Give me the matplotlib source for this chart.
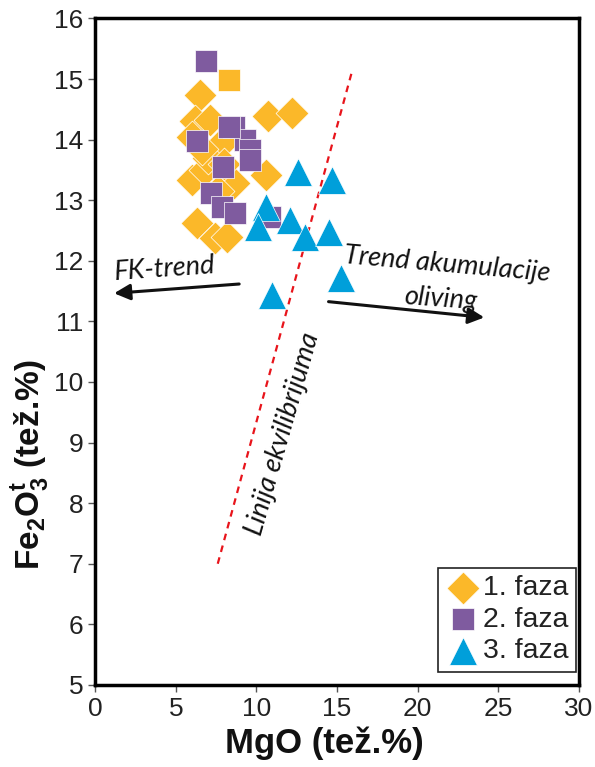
import matplotlib.pyplot as plt

plt.rcParams['font.family'] = ['Liberation Sans', 'DejaVu Sans']
plt.rcParams['mathtext.fontset'] = 'custom'
plt.rcParams['mathtext.rm'] = 'Liberation Sans'
plt.rcParams['mathtext.bf'] = 'Liberation Sans:bold'

# 1. faza (diamonds)
mgo_1 = [6.5, 10.7, 12.2, 6.2, 7.1, 6.0, 7.85, 10.6, 6.0, 6.8, 8.6, 6.3, 7.4, 8.2, 7.0, 6.6, 7.6, 8.0]
fe_1 = [14.74, 14.39, 14.44, 14.30, 14.33, 14.05, 13.94, 13.42, 13.33, 13.50, 13.28, 12.62, 12.37, 12.40, 13.70, 13.85, 13.15, 13.60]
# yellow square-looking point at the top
mgo_1b = [8.3]
fe_1b = [14.99]

# 2. faza (squares)
mgo_2 = [6.9, 8.6, 9.3, 9.6, 9.6, 6.3, 7.95, 7.2, 7.85, 8.7, 10.85, 8.3]
fe_2 = [15.29, 14.21, 13.99, 13.83, 13.66, 13.97, 13.55, 13.12, 12.89, 12.79, 12.73, 14.20]

# 3. faza (triangles)
mgo_3 = [12.6, 14.7, 10.6, 10.1, 12.1, 13.0, 14.5, 15.25, 10.95]
fe_3 = [13.47, 13.33, 12.89, 12.56, 12.67, 12.40, 12.47, 11.71, 11.44]

# equilibrium line
eq_x = [7.6, 15.9]
eq_y = [7.0, 15.1]

c1 = '#FBB829'
c2 = '#7F5B9F'
c3 = '#009FDA'

fig = plt.figure(figsize=(5.95, 7.67), dpi=100)
ax = fig.add_axes([0.16, 0.107, 0.813, 0.869])

ax.plot(eq_x, eq_y, color='#E8141B', ls=(0, (3, 2.5)), lw=1.6, zorder=1)

ax.scatter(mgo_1, fe_1, marker='D', s=280, color=c1, edgecolor='white', linewidth=0.5, zorder=2, label='1. faza')
ax.scatter(mgo_1b, fe_1b, marker='s', s=230, color=c1, edgecolor='white', linewidth=0.5, zorder=2)
ax.scatter(mgo_2, fe_2, marker='s', s=230, color=c2, edgecolor='white', linewidth=0.5, zorder=3, label='2. faza')
ax.scatter(mgo_3, fe_3, marker='^', s=400, color=c3, edgecolor='white', linewidth=0.5, zorder=4, label='3. faza')

# trend arrows
ax.annotate('', xy=(1.0, 11.46), xytext=(9.1, 11.62),
            arrowprops=dict(arrowstyle='-|>', color='#111111', lw=2.2, mutation_scale=24))
ax.annotate('', xy=(24.3, 11.06), xytext=(14.3, 11.33),
            arrowprops=dict(arrowstyle='-|>', color='#111111', lw=2.2, mutation_scale=24))

tfont = dict(family='Lato', style='italic', fontsize=19.5, color='#111111', ha='center', va='center')
ax.text(4.3, 11.86, 'FK-trend', rotation=4, **tfont)
ax.text(21.8, 11.93, 'Trend akumulacije', rotation=-5, **tfont)
ax.text(21.45, 11.36, 'oliving', rotation=-4, **tfont)
ax.text(11.65, 9.14, 'Linija ekvilibrijuma', rotation=74, **tfont)

ax.set_xlim(0, 30)
ax.set_ylim(5, 16)
ax.set_xticks(range(0, 31, 5))
ax.set_yticks(range(5, 17))
ax.tick_params(labelsize=19, length=5, width=1, direction='out', color='#555555', labelcolor='#222222')
for sp in ax.spines.values():
    sp.set_linewidth(2.5)

ax.set_xlabel('MgO (tež.%)', fontsize=25, fontweight='bold', color='#111111')
ax.xaxis.set_label_coords(0.473, -0.062)
ax.set_ylabel(r'Fe$_\mathbf{2}$O$_\mathbf{3}^\mathbf{t}$ (tež.%)', fontsize=24, fontweight='bold', color='#111111')
ax.yaxis.set_label_coords(-0.134, 0.33)
ax.yaxis.label.set_va('center')

leg = ax.legend(loc='lower right', bbox_to_anchor=(0.994, 0.02), fontsize=20.5,
                handletextpad=0.05, handlelength=1.3, borderpad=0.25, labelspacing=0.2,
                fancybox=False, framealpha=1, edgecolor='#222222', borderaxespad=0)
leg.get_frame().set_linewidth(1.2)
for t in leg.get_texts():
    t.set_color('#222222')

plt.savefig('out.png', dpi=100)
